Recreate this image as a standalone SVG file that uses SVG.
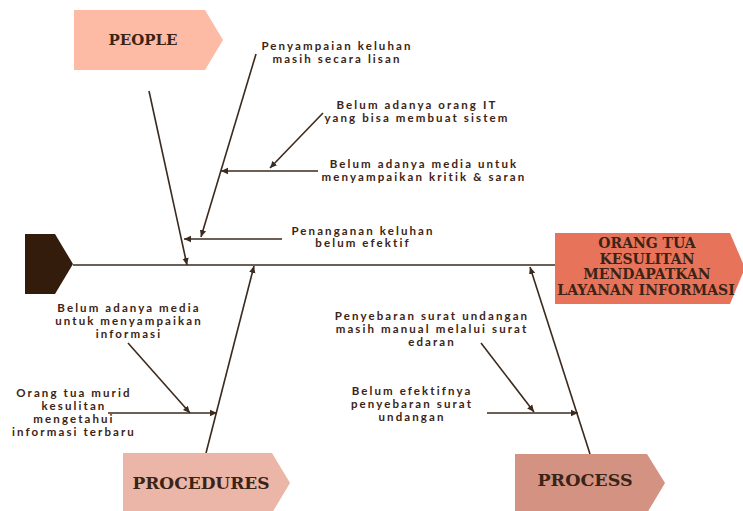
<svg xmlns="http://www.w3.org/2000/svg" width="743" height="511" viewBox="0 0 743 511">
<style>
.t{font-family:"Lato","Liberation Sans",sans-serif;font-weight:bold;font-size:11.5px;letter-spacing:2.1px;fill:#3b2415;text-anchor:middle}
.h{font-family:"DejaVu Serif","Liberation Serif",serif;font-weight:bold;fill:#3b2415;text-anchor:middle}
.l{stroke:#3b2a1e;stroke-width:1.6;fill:none}
.a{marker-end:url(#ar)}
</style>
<defs>
<marker id="ar" markerWidth="8" markerHeight="8" refX="7" refY="4" orient="auto" markerUnits="userSpaceOnUse">
<path d="M0,0.8 L7,4 L0,7.2 Z" fill="#3b2a1e"/>
</marker>
</defs>
<rect width="743" height="511" fill="#ffffff"/>
<g id="connectors">
<line class="l" x1="73" y1="265" x2="555" y2="265"/>
<line class="l a" x1="149" y1="91" x2="187" y2="265"/>
<line class="l a" x1="256" y1="54" x2="201" y2="237"/>
<line class="l a" x1="318" y1="171" x2="221" y2="171"/>
<line class="l a" x1="323" y1="113" x2="270" y2="168"/>
<line class="l a" x1="282" y1="239" x2="184" y2="239"/>
<line class="l a" x1="206" y1="453" x2="254" y2="266"/>
<line class="l a" x1="108" y1="413" x2="217" y2="413"/>
<line class="l a" x1="128" y1="343" x2="190" y2="413"/>
<line class="l a" x1="590" y1="454" x2="530" y2="267"/>
<line class="l a" x1="487" y1="413" x2="578" y2="413"/>
<line class="l a" x1="481" y1="343" x2="534" y2="412"/>
</g>
<g id="head">
<path d="M25,234 H55 L73,264 L55,294 H25 Z" fill="#341c0c"/>
</g>
<g id="people">
<path d="M74,10 H205 L223,40 L205,70 H74 Z" fill="#fdbba6"/>
<text class="h" x="143" y="45" font-size="15">PEOPLE</text>
</g>
<g id="effect">
<path d="M555,233 H730 L745,268 L730,304 H555 Z" fill="#e8735b"/>
<text class="h" x="647" y="248" font-size="14">ORANG TUA</text>
<text class="h" x="647" y="263.5" font-size="14">KESULITAN</text>
<text class="h" x="647" y="279" font-size="14">MENDAPATKAN</text>
<text class="h" x="646" y="294.5" font-size="14">LAYANAN INFORMASI</text>
</g>
<g id="procedures">
<path d="M123,453 H272 L290,483 L272,513 H123 Z" fill="#ebb5a8"/>
<text class="h" x="201" y="489" font-size="17">PROCEDURES</text>
</g>
<g id="process">
<path d="M515,454 H647 L665,483 L647,513 H515 Z" fill="#d39282"/>
<text class="h" x="585" y="486" font-size="17.5">PROCESS</text>
</g>
<g id="labels">
<text class="t" x="337" y="50">Penyampaian keluhan</text>
<text class="t" x="337" y="63">masih secara lisan</text>
<text class="t" x="417" y="109">Belum adanya orang IT</text>
<text class="t" x="417" y="122">yang bisa membuat sistem</text>
<text class="t" x="424" y="168">Belum adanya media untuk</text>
<text class="t" x="424" y="181">menyampaikan kritik &amp; saran</text>
<text class="t" x="363" y="235">Penanganan keluhan</text>
<text class="t" x="363" y="247">belum efektif</text>
<text class="t" x="129" y="312">Belum adanya media</text>
<text class="t" x="129" y="325">untuk menyampaikan</text>
<text class="t" x="129" y="338">informasi</text>
<text class="t" x="74" y="397">Orang tua murid</text>
<text class="t" x="74" y="410">kesulitan</text>
<text class="t" x="74" y="423">mengetahui</text>
<text class="t" x="74" y="436">informasi terbaru</text>
<text class="t" x="432" y="320">Penyebaran surat undangan</text>
<text class="t" x="432" y="333">masih manual melalui surat</text>
<text class="t" x="432" y="346">edaran</text>
<text class="t" x="412" y="395">Belum efektifnya</text>
<text class="t" x="412" y="408">penyebaran surat</text>
<text class="t" x="412" y="421">undangan</text>
</g>
</svg>
